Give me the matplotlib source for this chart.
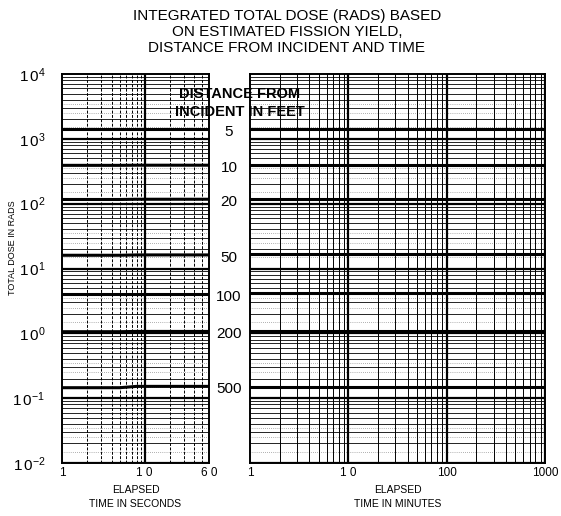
import numpy as np
import matplotlib.pyplot as plt
from matplotlib.transforms import blended_transform_factory

plt.rcParams['font.family'] = ['Liberation Sans', 'DejaVu Sans']
plt.rcParams['mathtext.fontset'] = 'custom'
plt.rcParams['mathtext.rm'] = 'Liberation Sans'
plt.rcParams['mathtext.it'] = 'Liberation Sans'

# distance from incident (feet) and the dose
distances = [5, 10, 20, 50, 100, 200, 500]
dist_labels = ['5', '10', '20', '50', '100', '200', '500']

t_seconds = [1, 5, 8, 60]
dose_seconds = [
    [1400, 1400, 1400, 1400],
    [390, 390, 392, 392],
    [116, 116, 117, 117],
    [16, 16, 16.2, 16.2],
    [4.1, 4.1, 4.1, 4.1],
    [1.06, 1.06, 1.07, 1.07],
    [0.145, 0.145, 0.152, 0.152],
]

t_minutes = [1, 10, 100, 1000]
dose_minutes = [
    [1420, 1420, 1420, 1420],
    [395, 395, 395, 395],
    [118, 118, 118, 118],
    [16.5, 16.5, 16.5, 16.5],
    [4.2, 4.2, 4.2, 4.2],
    [1.08, 1.08, 1.08, 1.08],
    [0.15, 0.15, 0.15, 0.15],
]

y_ticks = [1e-2, 1e-1, 1e0, 1e1, 1e2, 1e3, 1e4]
y_ticklabels = [r'$1\,0^{-2}$', r'$1\,0^{-1}$', r'$1\,0^{0}$', r'$1\,0^{1}$',
                r'$1\,0^{2}$', r'$1\,0^{3}$', r'$1\,0^{4}$']
sec_ticks = [1, 10, 60]
sec_ticklabels = ['1', '1 0', '6 0']
min_ticks = [1, 10, 100, 1000]
min_ticklabels = ['1', '1 0', '100', '1000']

W, H = 561, 516
fig = plt.figure(figsize=(W / 100, H / 100), dpi=100)

def px(x0, y0, x1, y1):
    return [x0 / W, 1 - y1 / H, (x1 - x0) / W, (y1 - y0) / H]

ax1 = fig.add_axes(px(62, 74, 209, 463))
ax2 = fig.add_axes(px(250, 74, 545, 463))


def graph_paper(ax, xmin, xmax, vstyle):
    ax.set_xscale('log')
    ax.set_yscale('log')
    ax.set_xlim(xmin, xmax)
    ax.set_ylim(1e-2, 1e4)
    # horizontal rulings
    for e in range(-2, 4):
        for m in range(2, 10):
            ax.axhline(m * 10.0 ** e, color='black', lw=0.6, zorder=1)
        for m in [1.5, 2.5, 3.5]:
            ax.axhline(m * 10.0 ** e, color='0.4', lw=0.5, ls=(0, (1, 2)), zorder=1)
        ax.axhline(10.0 ** e, color='black', lw=1.6, zorder=2)
    # vertical rulings
    e = 0
    while 10 ** e <= xmax:
        for m in range(2, 10):
            v = m * 10.0 ** e
            if v < xmax:
                ax.axvline(v, color='black', lw=0.7, ls=vstyle, zorder=1)
        if 10 ** e > xmin:
            ax.axvline(10.0 ** e, color='black', lw=1.6, zorder=2)
        e += 1
    ax.set_yticks(y_ticks)
    ax.minorticks_off()
    ax.tick_params(length=0, labelsize=9)
    for s in ax.spines.values():
        s.set_linewidth(1.4)


graph_paper(ax1, 1, 60, (0, (3, 1.5)))
graph_paper(ax2, 1, 1000, '-')

for row in dose_seconds:
    ax1.plot(t_seconds, row, color='black', lw=2.2, zorder=3)
for row in dose_minutes:
    ax2.plot(t_minutes, row, color='black', lw=2.2, zorder=3)

ax1.set_yticklabels(y_ticklabels, fontsize=11)
ax1.tick_params(axis='y', pad=12)
ax2.set_yticklabels([])
ax1.set_xticks(sec_ticks)
ax1.set_xticklabels(sec_ticklabels, fontsize=8.5)
ax2.set_xticks(min_ticks)
ax2.set_xticklabels(min_ticklabels, fontsize=8.5)
ax1.tick_params(axis='x', pad=3)
ax2.tick_params(axis='x', pad=3)

ax1.set_xlabel('ELAPSED\nTIME IN SECONDS', fontsize=7.5, labelpad=4, linespacing=1.5)
ax2.set_xlabel('ELAPSED\nTIME IN MINUTES', fontsize=7.5, labelpad=4, linespacing=1.5)
fig.text(13 / W, 1 - 248 / H, 'TOTAL DOSE IN RADS', rotation=90, fontsize=6.5,
         ha='center', va='center')

fig.text(287 / W, 1 - 32 / H,
         'INTEGRATED TOTAL DOSE (RADS) BASED\nON ESTIMATED FISSION YIELD,\nDISTANCE FROM INCIDENT AND TIME',
         ha='center', va='center', fontsize=11, linespacing=1.15)

fig.text(240 / W, 1 - 103 / H, 'DISTANCE FROM\nINCIDENT IN FEET', ha='center',
         va='center', fontsize=10.5, fontweight='bold', linespacing=1.3, zorder=10)

# curve labels placed between the panels at the curve height
trans = blended_transform_factory(fig.transFigure, ax1.transData)
for lab, row in zip(dist_labels, dose_seconds):
    ax1.text(229 / W, row[-1] * 0.9, lab, transform=trans, fontsize=11,
             ha='center', va='center', clip_on=False)

plt.savefig('out.png', dpi=100)
